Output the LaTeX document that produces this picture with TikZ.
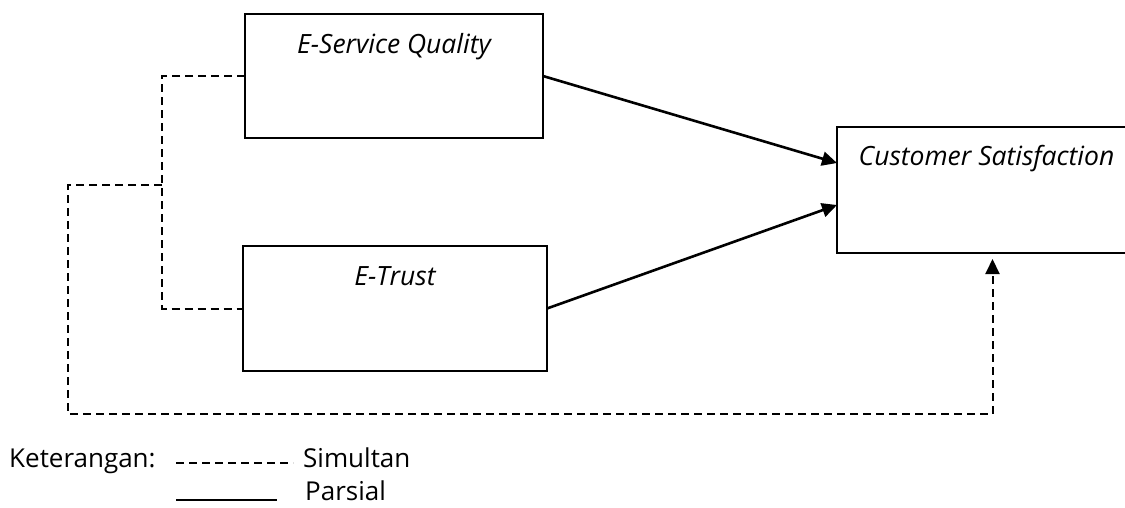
\documentclass[tikz,border=0pt]{standalone}
\usepackage{fontspec}
\setmainfont{Open Sans}
\usetikzlibrary{positioning}
\usetikzlibrary{arrows.meta}
\tikzset{varbox/.style={draw=black, line width=1.9pt, inner sep=0pt, outer sep=0pt},
	%partial and simultaneous links
	parsial/.style={line width=2.6pt, -{Triangle[length=15pt,width=14pt]}},
	simul/.style={line width=2pt, dash pattern=on 8pt off 5pt},
	lbl/.style={font=\fontsize{26}{30}\selectfont},
	varlbl/.style={font=\fontsize{26.5}{30}\selectfont\itshape}}

\begin{document}
\begin{tikzpicture}[x=1pt,y=-1pt]
		\useasboundingbox (0,0) rectangle (1125,507);
%		\draw[step=50,help lines,black!20] (0,0) grid (1125,507);
		\node[varbox, minimum width=298pt, minimum height=124pt, anchor=north west] (esq) at (245,14) {};
		\node[varbox, minimum width=304pt, minimum height=125pt, anchor=north west] (etrust) at (243,246) {};
		\node[varbox, minimum width=299pt, minimum height=126pt, anchor=north west] (cs) at (837,127) {};

		\node[varlbl, anchor=base] (esqtext) at ([yshift=-39pt]esq.north) {E-Service Quality};
		\node[varlbl, anchor=base] (etrusttext) at ([yshift=-39pt]etrust.north) {E-Trust};
		\node[varlbl, anchor=base] (cstext) at ([yshift=-38pt]cs.north) {Customer Satisfaction};

		\draw[parsial] (esq.east) -- ([yshift=27pt]cs.west);
		\draw[parsial] (etrust.east) -- ([yshift=-15pt]cs.west);

		\coordinate (split) at (162,185);
		\draw[simul] (esq.west) -| (split) |- (etrust.west);
		\draw[simul, -{Triangle[length=15pt,width=14pt]}, shorten >=6pt] (split) -| (68,414) -| ([xshift=6pt]cs.south);

		% legend
		\node[lbl, anchor=base west, inner sep=0pt] (ket) at (9,467) {Keterangan:};
		\node[lbl, anchor=base west, inner sep=0pt] (simtext) at (303,467) {Simultan};
		\node[lbl, anchor=base west, inner sep=0pt] (partext) at (305,500) {Parsial};
		\draw[simul] (176,463) -- (293,463);
		\draw[line width=1.9pt] (176,500) -- (277,500);
	\end{tikzpicture}
\end{document}
